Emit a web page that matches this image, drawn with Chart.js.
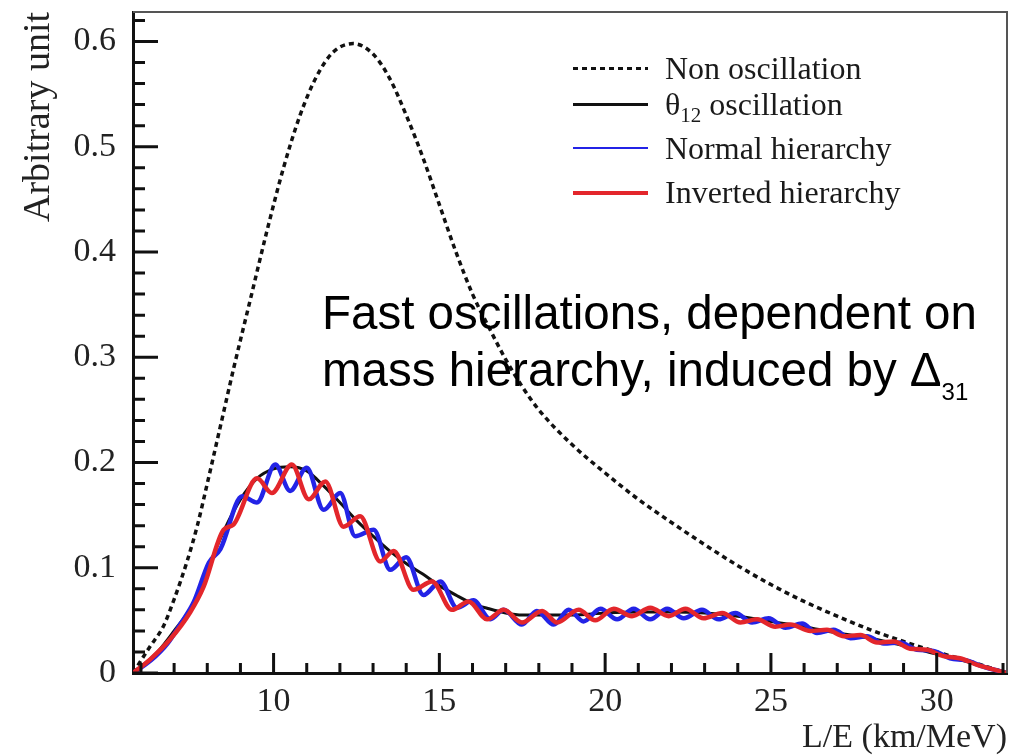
<!DOCTYPE html>
<html>
<head>
<meta charset="utf-8">
<title>L/E spectrum</title>
<script src="https://cdn.jsdelivr.net/npm/chart.js@4.4.0/dist/chart.umd.min.js"></script>
<style>
	html,body{margin:0;padding:0;background:#fff;}
	#wrap{position:relative;width:1016px;height:755px;overflow:hidden;}
	#chart{position:absolute;left:0;top:0;}
	.legend{position:absolute;left:573px;top:0;font-family:"Liberation Serif","Times New Roman",serif;font-size:32px;color:#1a1a1a;}
	.row{position:absolute;left:0;height:40px;line-height:40px;white-space:nowrap;}
	.sample{position:absolute;left:0;top:19px;width:75px;height:3px;}
	.lbl{position:absolute;left:92px;top:0;}
	.lbl sub{font-size:21px;vertical-align:-0.35em;line-height:0;}
	.note{position:absolute;left:322px;top:284px;font-family:"Liberation Sans",Arial,sans-serif;font-size:47.5px;line-height:57px;color:#000;white-space:nowrap;}
	.note sub{font-size:24px;vertical-align:-0.6em;line-height:0;}
</style>
</head>
<body>
<div id="wrap">
	<canvas id="chart" width="1016" height="755"></canvas>
	<div class="legend">
		<div class="row" style="top:48px"><div class="sample" style="background:repeating-linear-gradient(to right,#111 0 5px,transparent 5px 9px)"></div><span class="lbl">Non oscillation</span></div>
		<div class="row" style="top:84px"><div class="sample" style="background:#111"></div><span class="lbl">θ<sub>12</sub> oscillation</span></div>
		<div class="row" style="top:128px"><div class="sample" style="background:#2323e6;height:2px"></div><span class="lbl">Normal hierarchy</span></div>
		<div class="row" style="top:172px"><div class="sample" style="background:#e3262b;height:4px"></div><span class="lbl">Inverted hierarchy</span></div>
	</div>
	<div class="note">Fast oscillations, dependent on<br>mass hierarchy, induced by Δ<sub>31</sub></div>
</div>
<script>
// L/E spectra: no oscillation, theta12 only, and the two mass hierarchies
const xTicks = [10, 15, 20, 25, 30];
const xMinorTicks = [6, 7, 8, 9, 11, 12, 13, 14, 16, 17, 18, 19, 21, 22, 23, 24, 26, 27, 28, 29, 31, 32];
const yTicks = [0, 0.1, 0.2, 0.3, 0.4, 0.5, 0.6];
const yMinorTicks = [0.02, 0.04, 0.06, 0.08, 0.12, 0.14, 0.16, 0.18, 0.22, 0.24, 0.26, 0.28,
	0.32, 0.34, 0.36, 0.38, 0.42, 0.44, 0.46, 0.48, 0.52, 0.54, 0.56, 0.58, 0.62];

// Non oscillation (dotted)
const nonOscX = [5.76, 6.27, 6.67, 7.0, 7.4, 7.7, 8.0, 8.4, 8.8, 9.3, 9.8, 10.3, 10.8, 11.3, 11.8, 12.4,
	13.0, 13.5, 14.0, 14.5, 15.0, 15.5, 16.0, 16.5, 17.0, 17.5, 18.0, 19.0, 20.0, 21.0, 22.0, 23.0, 24.0,
	25.0, 26.0, 27.0, 28.0, 29.0, 30.0, 31.0, 32.12];
const nonOscY = [0, 0.025, 0.044, 0.07, 0.107, 0.14, 0.18, 0.235, 0.29, 0.355, 0.42, 0.48, 0.53, 0.567, 0.59, 0.598,
	0.588, 0.565, 0.53, 0.49, 0.445, 0.4, 0.36, 0.328, 0.298, 0.272, 0.25, 0.217, 0.19, 0.165, 0.143, 0.122, 0.102,
	0.084, 0.068, 0.054, 0.041, 0.03, 0.02, 0.011, 0];

// theta12 oscillation (black)
const th12X = [5.76, 6.0, 6.5, 7.0, 7.5, 8.0, 8.5, 9.0, 9.5, 10.0, 10.5, 11.0, 11.5, 12.0, 12.5, 13.0, 13.5, 14.0,
	14.5, 15.0, 15.5, 16.0, 16.5, 17.0, 17.5, 18.0, 19.0, 20.0, 21.0, 22.0, 23.0, 24.0, 25.0, 26.0, 27.0, 28.0,
	29.0, 30.0, 31.0, 32.12];
const th12Y = [0, 0.006, 0.02, 0.04, 0.062, 0.098, 0.135, 0.165, 0.185, 0.194, 0.196, 0.192, 0.178, 0.162, 0.145, 0.13,
	0.116, 0.104, 0.094, 0.083, 0.074, 0.066, 0.061, 0.057, 0.055, 0.055, 0.055, 0.057, 0.058, 0.058, 0.057, 0.054,
	0.049, 0.044, 0.038, 0.033, 0.026, 0.018, 0.01, 0];

// Normal hierarchy (blue), read at peaks and troughs
const normalX = [5.76, 6.3, 6.8, 7.2, 7.6, 8.05, 8.4, 9.05, 9.5, 10.05, 10.5, 11.0, 11.51, 12.01, 12.46, 13.02, 13.52,
	14.0, 14.52, 15.03, 15.53, 16.03, 16.54, 16.94, 17.49, 17.94, 18.45, 18.9, 19.35, 19.86, 20.36, 20.86, 21.36,
	21.87, 22.37, 22.92, 23.42, 23.93, 24.43, 24.93, 25.44, 25.94, 26.39, 26.89, 27.4, 27.9, 28.4, 28.9, 29.4,
	29.9, 30.4, 30.9, 31.4, 32.12];
const normalY = [0, 0.012, 0.028, 0.047, 0.068, 0.105, 0.118, 0.168, 0.162, 0.198, 0.173, 0.195, 0.155, 0.171, 0.13,
	0.136, 0.098, 0.11, 0.074, 0.087, 0.062, 0.069, 0.051, 0.06, 0.046, 0.059, 0.046, 0.06, 0.049, 0.061, 0.051,
	0.061, 0.051, 0.061, 0.052, 0.06, 0.051, 0.057, 0.048, 0.052, 0.043, 0.047, 0.038, 0.041, 0.033, 0.035, 0.028,
	0.029, 0.022, 0.021, 0.014, 0.012, 0.006, 0];

// Inverted hierarchy (red)
const invertedX = [5.76, 6.28, 6.88, 7.49, 7.89, 8.49, 8.79, 9.5, 9.95, 10.55, 11.06, 11.56, 12.11, 12.61, 13.22,
	13.62, 14.22, 14.78, 15.38, 15.88, 16.44, 16.94, 17.49, 18.1, 18.55, 19.2, 19.7, 20.26, 20.81, 21.36, 21.92,
	22.42, 22.97, 23.53, 24.08, 24.58, 25.13, 25.59, 26.19, 26.69, 27.2, 27.7, 28.2, 28.7, 29.2, 29.7, 30.2,
	30.7, 31.2, 32.12];
const invertedY = [0, 0.013, 0.032, 0.058, 0.082, 0.136, 0.141, 0.185, 0.171, 0.198, 0.165, 0.182, 0.139, 0.149, 0.106,
	0.116, 0.079, 0.087, 0.06, 0.068, 0.051, 0.06, 0.048, 0.059, 0.048, 0.06, 0.05, 0.061, 0.054, 0.062, 0.054,
	0.061, 0.052, 0.057, 0.048, 0.051, 0.044, 0.046, 0.04, 0.041, 0.035, 0.036, 0.029, 0.03, 0.023, 0.022, 0.016,
	0.014, 0.008, 0];

const X_MIN = 5.76, X_MAX = 32.12, Y_MIN = 0, Y_MAX = 0.628;

function points(xs, ys){
	return xs.map((x, i) => ({ x, y: ys[i] }));
}

// ticks pointing into the plot plus the thin top/right frame
const frameTicks = {
	id: 'frameTicks',
	afterDatasetsDraw(chart){
		const { ctx, chartArea: a, scales: { x, y } } = chart;
		ctx.save();
		ctx.strokeStyle = '#111';
		ctx.lineWidth = 3;
		ctx.beginPath();
		xTicks.forEach(v => { const p = x.getPixelForValue(v); ctx.moveTo(p, a.bottom); ctx.lineTo(p, a.bottom - 20); });
		xMinorTicks.forEach(v => { const p = x.getPixelForValue(v); ctx.moveTo(p, a.bottom); ctx.lineTo(p, a.bottom - 10); });
		yTicks.forEach(v => { const p = y.getPixelForValue(v); ctx.moveTo(a.left, p); ctx.lineTo(a.left + 25, p); });
		yMinorTicks.forEach(v => { const p = y.getPixelForValue(v); ctx.moveTo(a.left, p); ctx.lineTo(a.left + 12, p); });
		ctx.stroke();
		ctx.strokeStyle = '#555';
		ctx.lineWidth = 2;
		ctx.beginPath();
		ctx.moveTo(a.left, a.top);
		ctx.lineTo(a.right, a.top);
		ctx.lineTo(a.right, a.bottom);
		ctx.stroke();
		ctx.restore();
	}
};

const serif = '"Liberation Serif", "Times New Roman", serif';

new Chart(document.getElementById('chart'), {
	type: 'line',
	data: {
		datasets: [
			{ label: 'Inverted hierarchy', data: points(invertedX, invertedY), borderColor: '#e3262b', borderWidth: 4.5, order: 0 },
			{ label: 'Normal hierarchy', data: points(normalX, normalY), borderColor: '#2323e6', borderWidth: 4.5, order: 1 },
			{ label: 'θ12 oscillation', data: points(th12X, th12Y), borderColor: '#111', borderWidth: 3, order: 2 },
			{ label: 'Non oscillation', data: points(nonOscX, nonOscY), borderColor: '#111', borderWidth: 3.5, borderDash: [5, 4], order: 3 }
		]
	},
	options: {
		responsive: false,
		animation: false,
		devicePixelRatio: 1,
		parsing: false,
		elements: {
			point: { radius: 0 },
			line: { cubicInterpolationMode: 'monotone', fill: false }
		},
		layout: { padding: { left: 0, right: 9, top: 12, bottom: 0 } },
		plugins: { legend: { display: false }, tooltip: { enabled: false } },
		scales: {
			x: {
				type: 'linear',
				min: X_MIN, max: X_MAX,
				afterBuildTicks: s => { s.ticks = xTicks.map(v => ({ value: v })); },
				afterFit: s => { s.height = 82; s.paddingLeft = 0; s.paddingRight = 0; },
				grid: { display: false, drawTicks: false },
				border: { display: true, color: '#111', width: 3 },
				ticks: { color: '#222', padding: 9, maxRotation: 0, font: { family: serif, size: 34 } },
				title: { display: true, text: 'L/E (km/MeV)', align: 'end', color: '#222',
					padding: { top: 0, bottom: 0 }, font: { family: serif, size: 34, lineHeight: 1 } }
			},
			y: {
				min: Y_MIN, max: Y_MAX,
				afterBuildTicks: s => { s.ticks = yTicks.map(v => ({ value: v })); },
				afterFit: s => { s.width = 133; s.paddingTop = 0; s.paddingBottom = 0; },
				grid: { display: false, drawTicks: false },
				border: { display: true, color: '#111', width: 3 },
				ticks: { color: '#222', padding: 17, font: { family: serif, size: 34 },
					callback: v => v === 0 ? '0' : v.toFixed(1) },
				title: { display: true, text: 'Arbitrary unit', align: 'end', color: '#222',
					padding: { top: 20, bottom: 0 }, font: { family: serif, size: 38, lineHeight: 1 } }
			}
		}
	},
	plugins: [frameTicks]
});
</script>
</body>
</html>
